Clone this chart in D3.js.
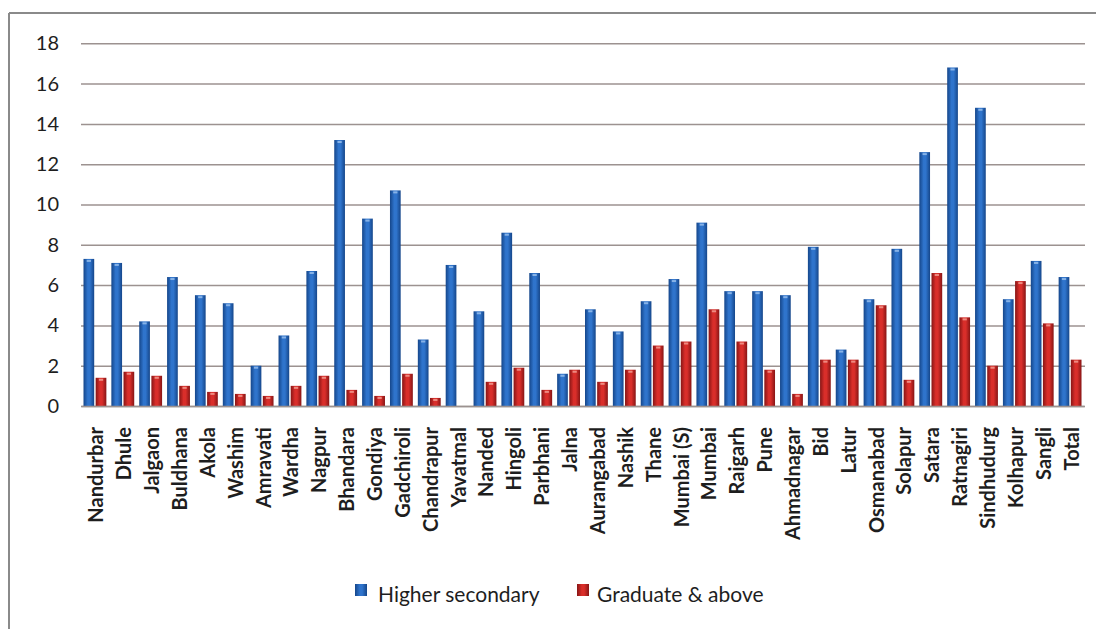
<!DOCTYPE html>
<html>
<head>
<meta charset="utf-8">
<script src="https://cdn.jsdelivr.net/npm/d3@7"></script>
<style>
  html, body { margin: 0; padding: 0; background: #ffffff; }
  svg { display: block; }
</style>
</head>
<body>
<svg id="chart" width="1096" height="629"></svg>
<script>
// District-wise percentages, Maharashtra
const districts = ["Nandurbar","Dhule","Jalgaon","Buldhana","Akola","Washim","Amravati","Wardha","Nagpur","Bhandara",
  "Gondiya","Gadchiroli","Chandrapur","Yavatmal","Nanded","Hingoli","Parbhani","Jalna","Aurangabad","Nashik",
  "Thane","Mumbai (S)","Mumbai","Raigarh","Pune","Ahmadnagar","Bid","Latur","Osmanabad","Solapur",
  "Satara","Ratnagiri","Sindhudurg","Kolhapur","Sangli","Total"];
const higherSecondary = [7.3,7.1,4.2,6.4,5.5,5.1,2.0,3.5,6.7,13.2,
  9.3,10.7,3.3,7.0,4.7,8.6,6.6,1.6,4.8,3.7,
  5.2,6.3,9.1,5.7,5.7,5.5,7.9,2.8,5.3,7.8,
  12.6,16.8,14.8,5.3,7.2,6.4];
const graduateAbove = [1.4,1.7,1.5,1.0,0.7,0.6,0.5,1.0,1.5,0.8,
  0.5,1.6,0.4,0.0,1.2,1.9,0.8,1.8,1.2,1.8,
  3.0,3.2,4.8,3.2,1.8,0.6,2.3,2.3,5.0,1.3,
  6.6,4.4,2.0,6.2,4.1,2.3];
const seriesNames = ["Higher secondary", "Graduate & above"];
const yTicks = [0,2,4,6,8,10,12,14,16,18];

const series = [
  { key: "hs", name: seriesNames[0], values: higherSecondary, dark: "#15468a", mid: "#2f74cc", cap: "#9cc2ee" },
  { key: "ga", name: seriesNames[1], values: graduateAbove, dark: "#871515", mid: "#d92e2a", cap: "#f3a196" }
];

const svg = d3.select("#chart");
const FONT = "Lato, 'Open Sans', sans-serif";

// frame (top and left edges)
svg.append("line").attr("x1", 9).attr("x2", 1096).attr("y1", 13).attr("y2", 13)
  .attr("stroke", "#8a8a8a").attr("stroke-width", 2);
svg.append("line").attr("x1", 9).attr("x2", 9).attr("y1", 13).attr("y2", 629)
  .attr("stroke", "#8a8a8a").attr("stroke-width", 2);

const x0 = d3.scaleBand().domain(districts).range([81, 1084]).paddingInner(0).paddingOuter(0);
const x1 = d3.scaleBand().domain(series.map(s => s.key)).range([2.5, x0.bandwidth() - 2.5]).paddingInner(0.12);
const y = d3.scaleLinear().domain([0, 18]).range([406, 43.3]);

// gradients giving the bars a rounded look
const defs = svg.append("defs");
series.forEach(s => {
  const g = defs.append("linearGradient").attr("id", "grad-" + s.key)
    .attr("x1", "0%").attr("x2", "100%").attr("y1", "0%").attr("y2", "0%");
  g.append("stop").attr("offset", "0%").attr("stop-color", s.dark);
  g.append("stop").attr("offset", "40%").attr("stop-color", s.mid);
  g.append("stop").attr("offset", "60%").attr("stop-color", s.mid);
  g.append("stop").attr("offset", "100%").attr("stop-color", s.dark);
});

// horizontal gridlines and value labels
const yAxis = d3.axisLeft(y).tickValues(yTicks).tickSize(-(1085 - 81)).tickPadding(22).tickFormat(d3.format("d"));
const gy = svg.append("g").attr("transform", "translate(81,0)").call(yAxis);
gy.select(".domain").remove();
gy.selectAll(".tick line").attr("stroke", "#9c9290").attr("stroke-width", 1.5);
gy.selectAll(".tick text").attr("font-family", FONT).attr("font-size", 20).attr("fill", "#1e1e1e");

// bars, one group per district
const rows = districts.map((name, i) => ({ name, hs: higherSecondary[i], ga: graduateAbove[i] }));
const groups = svg.append("g").selectAll("g").data(rows).join("g")
  .attr("transform", d => `translate(${x0(d.name)},0)`);

series.forEach(s => {
  groups.append("rect")
    .attr("x", x1(s.key))
    .attr("width", x1.bandwidth())
    .attr("y", d => y(d[s.key]))
    .attr("height", d => y(0) - y(d[s.key]))
    .attr("fill", `url(#grad-${s.key})`);
  // small highlight at the top of each bar
  groups.filter(d => d[s.key] > 0).append("rect")
    .attr("x", x1(s.key) + x1.bandwidth() * 0.3)
    .attr("width", x1.bandwidth() * 0.4)
    .attr("y", d => y(d[s.key]) + 1)
    .attr("height", 2)
    .attr("fill", s.cap).attr("opacity", 0.8);
});

// category axis
const xAxis = d3.axisBottom(x0).tickSize(0).tickPadding(0);
const gx = svg.append("g").attr("transform", "translate(0,406)").call(xAxis);
gx.select(".domain").attr("stroke", "#9c9290").attr("stroke-width", 1.5);
gx.selectAll(".tick text")
  .attr("font-family", FONT).attr("font-size", 20).attr("font-weight", "bold").attr("fill", "#1e1e1e")
  .attr("text-anchor", "end")
  .attr("transform", "translate(1.5,21) rotate(-90)")
  .attr("x", 0).attr("y", 0).attr("dy", "0.35em");

// legend
const legendPos = [{ sx: 355, tx: 378 }, { sx: 577, tx: 597 }];
const legend = svg.append("g");
series.forEach((s, i) => {
  legend.append("rect").attr("x", legendPos[i].sx).attr("y", 584).attr("width", 12).attr("height", 12)
    .attr("fill", `url(#grad-${s.key})`);
  legend.append("text").attr("x", legendPos[i].tx).attr("y", 602)
    .attr("font-family", FONT).attr("font-size", 21).attr("fill", "#1e1e1e").text(s.name);
});
</script>
</body>
</html>
